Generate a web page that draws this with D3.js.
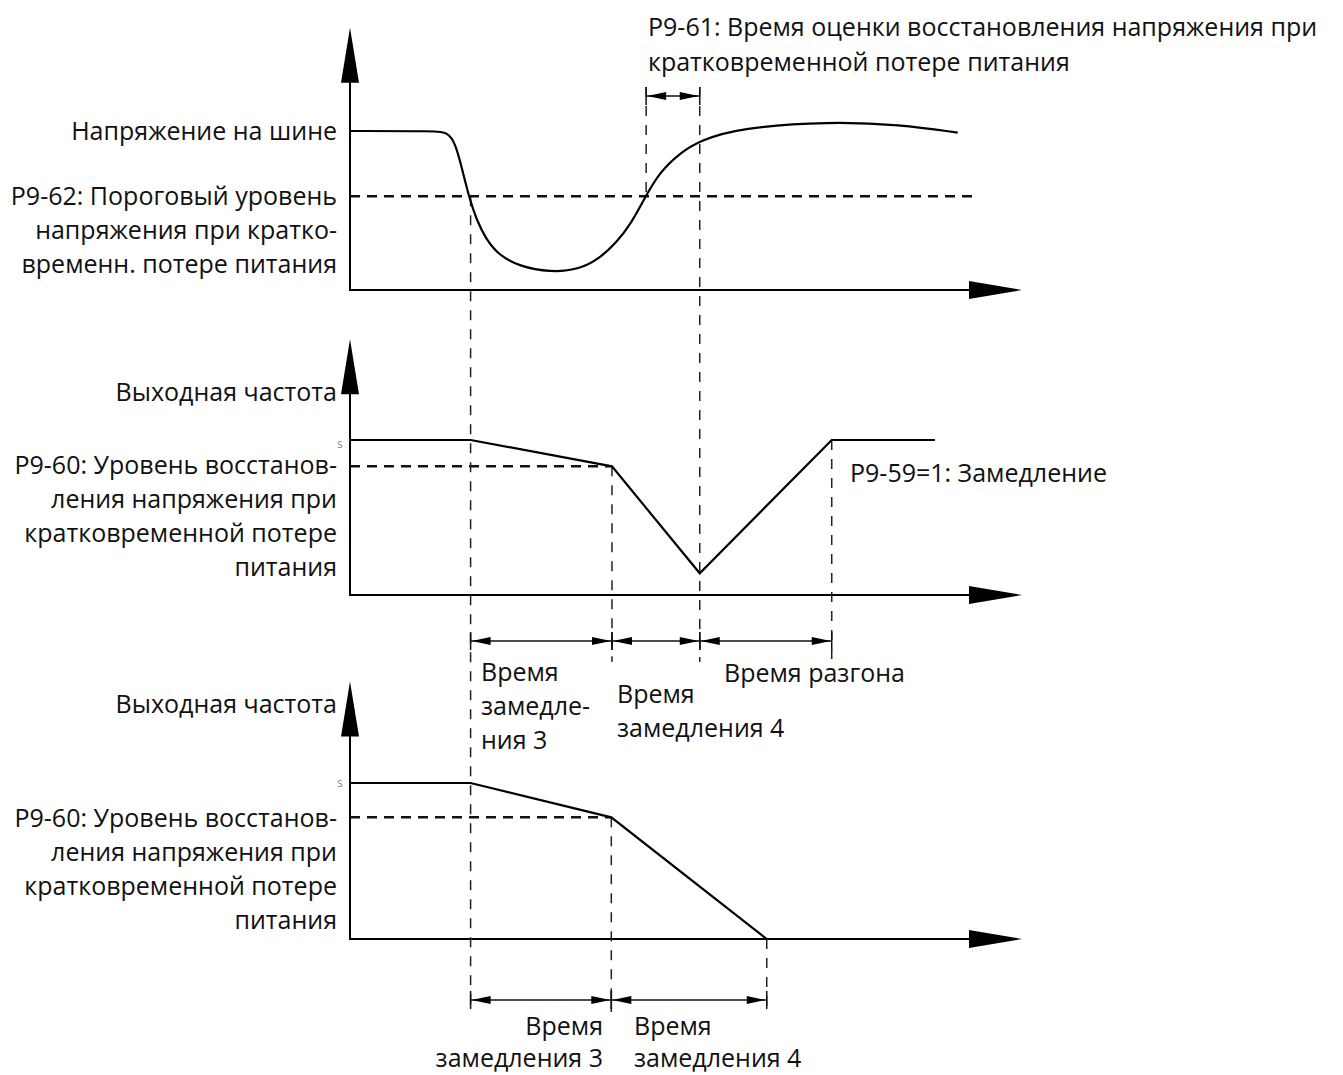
<!DOCTYPE html>
<html>
<head>
<meta charset="utf-8">
<script src="https://cdn.jsdelivr.net/npm/d3@7"></script>
<style>
  body { margin: 0; background: #fff; }
  svg text { font-family: "Open Sans", "Noto Sans", sans-serif; font-size: 25px; fill: #111; }
</style>
</head>
<body>
<svg width="1343" height="1075"></svg>
<script>
const svg = d3.select("svg");

// time (arbitrary units) and levels (% of nominal)
const busVoltage = [
  [0, 100], [130, 100], [145, 99], [157, 93], [168, 75], [178, 58], [189, 44],
  [203, 32], [222, 22], [252, 15], [299, 11], [343, 13], [373, 20], [398, 30],
  [420, 42], [440, 58], [462, 74], [492, 86], [522, 94], [582, 102],
  [716, 106], [821, 104], [907, 99]
];
const thresholdLevel = 59;
const thresholdEnd = 933;

const freqRecover = [[0, 100], [180, 100], [391, 83], [522, 14], [719, 100], [873, 100]];
const recoverLevel2 = 83;
const freqStop = [[0, 100], [180, 100], [390, 78], [622, 0]];
const recoverLevel3 = 78;

const axisEnd = 1003;
const axisTop = 165;

const bracketsTop = [[442, 522]];
const bracketsMid = [[180, 391], [391, 522], [522, 719]];
const bracketsBot = [[180, 390], [390, 622]];

const x = d3.scaleLinear().domain([0, 1000]).range([350, 1020]);
const y1 = d3.scaleLinear().domain([0, 100]).range([290, 131]);
const y2 = d3.scaleLinear().domain([0, 100]).range([595, 440]);
const y3 = d3.scaleLinear().domain([0, 100]).range([939, 783]);

function drawAxes(y) {
  const x0 = x(0), yb = y(0), yt = y(axisTop);
  svg.append("line").attr("x1", x0).attr("y1", yb).attr("x2", x0).attr("y2", yt + 40)
    .attr("stroke", "#000").attr("stroke-width", 2);
  svg.append("path")
    .attr("d", `M${x0},${yt} L${x0 - 9},${yt + 55} L${x0 + 9},${yt + 55} Z`)
    .attr("fill", "#000");
  const xe = x(axisEnd);
  svg.append("line").attr("x1", x0 - 1).attr("y1", yb).attr("x2", xe - 40).attr("y2", yb)
    .attr("stroke", "#000").attr("stroke-width", 2);
  svg.append("path")
    .attr("d", `M${xe},${yb} L${xe - 53},${yb - 9} L${xe - 53},${yb + 9} Z`)
    .attr("fill", "#000");
}
drawAxes(y1);
drawAxes(y2);
drawAxes(y3);

const hDash = sel => sel.attr("stroke", "#111").attr("stroke-width", 2.5).attr("stroke-dasharray", "10,7");
const vDash = sel => sel.attr("stroke", "#222").attr("stroke-width", 1.5).attr("stroke-dasharray", "10,9");

// horizontal level lines
svg.append("line").attr("x1", x(0)).attr("x2", x(thresholdEnd))
  .attr("y1", y1(thresholdLevel)).attr("y2", y1(thresholdLevel)).call(hDash);
svg.append("line").attr("x1", x(0)).attr("x2", x(freqRecover[2][0]))
  .attr("y1", y2(recoverLevel2)).attr("y2", y2(recoverLevel2)).call(hDash);
svg.append("line").attr("x1", x(0)).attr("x2", x(freqStop[2][0]))
  .attr("y1", y3(recoverLevel3)).attr("y2", y3(recoverLevel3)).call(hDash);

// vertical guides: time, top px, bottom px
const guides = [
  [180, y1(thresholdLevel), 1010],
  [442, 87, y1(thresholdLevel)],
  [522, 87, 662],
  [391, y2(recoverLevel2), 662],
  [719, y2(100), 662],
  [390, y3(recoverLevel3), 1012],
  [622, y3(0), 1012]
];
guides.forEach(g => {
  svg.append("line").attr("x1", x(g[0])).attr("x2", x(g[0]))
    .attr("y1", g[1]).attr("y2", g[2]).call(vDash);
});

// curves
svg.append("path").datum(busVoltage)
  .attr("d", d3.line().x(d => x(d[0])).y(d => y1(d[1])).curve(d3.curveBasis))
  .attr("fill", "none").attr("stroke", "#000").attr("stroke-width", 2.2);
svg.append("path").datum(freqRecover)
  .attr("d", d3.line().x(d => x(d[0])).y(d => y2(d[1])))
  .attr("fill", "none").attr("stroke", "#000").attr("stroke-width", 2.2);
svg.append("path").datum(freqStop)
  .attr("d", d3.line().x(d => x(d[0])).y(d => y3(d[1])))
  .attr("fill", "none").attr("stroke", "#000").attr("stroke-width", 2.2);

// double arrow brackets
function bracket(a, b, yy) {
  const xa = x(a), xb = x(b);
  svg.append("line").attr("x1", xa).attr("x2", xb).attr("y1", yy).attr("y2", yy)
    .attr("stroke", "#111").attr("stroke-width", 1.5);
  svg.append("line").attr("x1", xa).attr("x2", xa).attr("y1", yy - 9).attr("y2", yy + 9)
    .attr("stroke", "#111").attr("stroke-width", 1.5);
  svg.append("line").attr("x1", xb).attr("x2", xb).attr("y1", yy - 9).attr("y2", yy + 9)
    .attr("stroke", "#111").attr("stroke-width", 1.5);
  svg.append("path").attr("d", `M${xa + 1},${yy} L${xa + 20},${yy - 4} L${xa + 20},${yy + 4} Z`).attr("fill", "#000");
  svg.append("path").attr("d", `M${xb - 1},${yy} L${xb - 20},${yy - 4} L${xb - 20},${yy + 4} Z`).attr("fill", "#000");
}
bracketsTop.forEach(d => bracket(d[0], d[1], 96));
bracketsMid.forEach(d => bracket(d[0], d[1], 641));
bracketsBot.forEach(d => bracket(d[0], d[1], 1000));

// texts
function label(lines, xx, y0, anchor, step = 34) {
  lines.forEach((t, i) => {
    svg.append("text").attr("x", xx).attr("y", y0 + i * step).attr("dy", "0.35em")
      .attr("text-anchor", anchor).text(t);
  });
}
const recoveryText = ["P9-60: Уровень восстанов-", "ления напряжения при", "кратковременной потере", "питания"];

label(["P9-61: Время оценки восстановления напряжения при", "кратковременной потере питания"], 648, 27, "start", 35);
label(["Напряжение на шине"], 337, 131, "end");
label(["P9-62: Пороговый уровень", "напряжения при кратко-", "временн. потере питания"], 337, 196, "end");
label(["Выходная частота"], 337, 392, "end");
label(recoveryText, 337, 465, "end");
label(["P9-59=1: Замедление"], 850, 473, "start");
label(["Время", "замедле-", "ния 3"], 481, 672, "start");
label(["Время", "замедления 4"], 617, 694, "start");
label(["Время разгона"], 724, 673, "start");
label(["Выходная частота"], 337, 704, "end");
label(recoveryText, 337, 818, "end");
label(["Время", "замедления 3"], 603, 1026, "end", 32);
label(["Время", "замедления 4"], 634, 1026, "start", 32);

// faint scan remnants next to the frequency axes
[444, 783].forEach(v => {
  svg.append("text").attr("x", 337).attr("y", v).attr("dy", "0.35em")
    .style("font-size", "12px").style("fill", "#7a8a99").text("s");
});
</script>
</body>
</html>
